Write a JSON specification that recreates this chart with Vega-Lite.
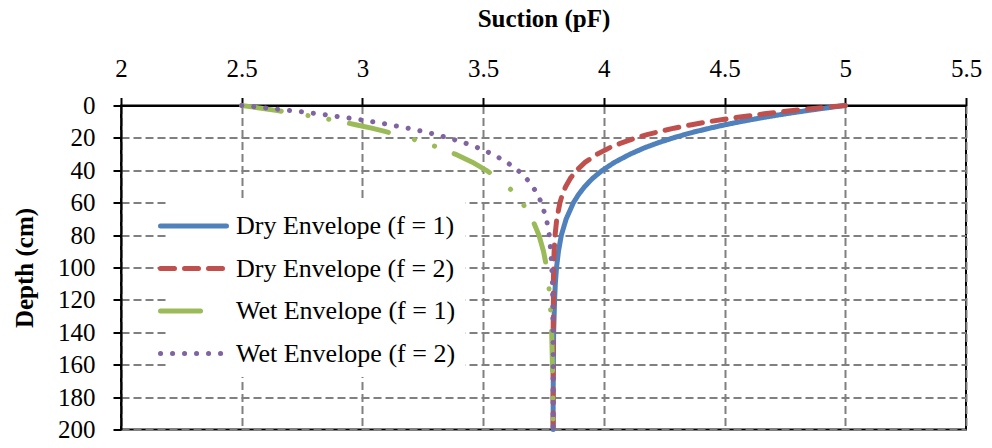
{
  "$schema": "https://vega.github.io/schema/vega-lite/v6.json",
  "autosize": {"type": "none"},
  "width": 845,
  "height": 324,
  "padding": {"left": 121, "top": 105.5, "right": 26, "bottom": 18.5},
  "background": "white",
  "config": {
    "font": "Liberation Serif",
    "view": {"stroke": "black", "strokeWidth": 2},
    "axis": {
      "domainColor": "black", "domainWidth": 2,
      "tickColor": "black", "tickWidth": 2, "tickSize": 8,
      "labelFont": "Liberation Serif", "labelFontSize": 25, "labelColor": "black",
      "titleFont": "Liberation Serif", "titleFontSize": 25, "titleFontWeight": "bold", "titleColor": "black",
      "gridColor": "#808080", "gridDash": [8, 4], "gridWidth": 2
    },
    "legend": {"labelFont": "Liberation Serif"}
  },
  "data": {"values": [
    {"s":"Dry Envelope (f = 1)","d":0,"p":5.000},{"s":"Dry Envelope (f = 1)","d":1,"p":4.947},{"s":"Dry Envelope (f = 1)","d":2,"p":4.897},{"s":"Dry Envelope (f = 1)","d":3,"p":4.849},{"s":"Dry Envelope (f = 1)","d":4,"p":4.803},{"s":"Dry Envelope (f = 1)","d":5,"p":4.759},{"s":"Dry Envelope (f = 1)","d":6,"p":4.717},{"s":"Dry Envelope (f = 1)","d":8,"p":4.638},{"s":"Dry Envelope (f = 1)","d":10,"p":4.565},{"s":"Dry Envelope (f = 1)","d":12,"p":4.499},{"s":"Dry Envelope (f = 1)","d":14,"p":4.439},{"s":"Dry Envelope (f = 1)","d":16,"p":4.384},{"s":"Dry Envelope (f = 1)","d":18,"p":4.333},{"s":"Dry Envelope (f = 1)","d":20,"p":4.287},{"s":"Dry Envelope (f = 1)","d":23,"p":4.225},{"s":"Dry Envelope (f = 1)","d":26,"p":4.170},{"s":"Dry Envelope (f = 1)","d":30,"p":4.109},{"s":"Dry Envelope (f = 1)","d":35,"p":4.045},{"s":"Dry Envelope (f = 1)","d":40,"p":3.994},{"s":"Dry Envelope (f = 1)","d":45,"p":3.953},{"s":"Dry Envelope (f = 1)","d":50,"p":3.921},{"s":"Dry Envelope (f = 1)","d":55,"p":3.895},{"s":"Dry Envelope (f = 1)","d":60,"p":3.874},{"s":"Dry Envelope (f = 1)","d":70,"p":3.844},{"s":"Dry Envelope (f = 1)","d":80,"p":3.824},{"s":"Dry Envelope (f = 1)","d":90,"p":3.812},{"s":"Dry Envelope (f = 1)","d":100,"p":3.804},{"s":"Dry Envelope (f = 1)","d":110,"p":3.799},{"s":"Dry Envelope (f = 1)","d":120,"p":3.796},{"s":"Dry Envelope (f = 1)","d":140,"p":3.792},{"s":"Dry Envelope (f = 1)","d":160,"p":3.791},{"s":"Dry Envelope (f = 1)","d":180,"p":3.790},{"s":"Dry Envelope (f = 1)","d":200,"p":3.790},
    {"s":"Dry Envelope (f = 2)","d":0,"p":5.000},{"s":"Dry Envelope (f = 2)","d":1,"p":4.926},{"s":"Dry Envelope (f = 2)","d":2,"p":4.857},{"s":"Dry Envelope (f = 2)","d":3,"p":4.792},{"s":"Dry Envelope (f = 2)","d":4,"p":4.730},{"s":"Dry Envelope (f = 2)","d":5,"p":4.673},{"s":"Dry Envelope (f = 2)","d":6,"p":4.619},{"s":"Dry Envelope (f = 2)","d":8,"p":4.521},{"s":"Dry Envelope (f = 2)","d":10,"p":4.434},{"s":"Dry Envelope (f = 2)","d":12,"p":4.358},{"s":"Dry Envelope (f = 2)","d":14,"p":4.291},{"s":"Dry Envelope (f = 2)","d":16,"p":4.232},{"s":"Dry Envelope (f = 2)","d":18,"p":4.179},{"s":"Dry Envelope (f = 2)","d":20,"p":4.133},{"s":"Dry Envelope (f = 2)","d":23,"p":4.074},{"s":"Dry Envelope (f = 2)","d":26,"p":4.025},{"s":"Dry Envelope (f = 2)","d":30,"p":3.973},{"s":"Dry Envelope (f = 2)","d":35,"p":3.923},{"s":"Dry Envelope (f = 2)","d":40,"p":3.887},{"s":"Dry Envelope (f = 2)","d":45,"p":3.861},{"s":"Dry Envelope (f = 2)","d":50,"p":3.842},{"s":"Dry Envelope (f = 2)","d":55,"p":3.828},{"s":"Dry Envelope (f = 2)","d":60,"p":3.818},{"s":"Dry Envelope (f = 2)","d":70,"p":3.805},{"s":"Dry Envelope (f = 2)","d":80,"p":3.798},{"s":"Dry Envelope (f = 2)","d":90,"p":3.794},{"s":"Dry Envelope (f = 2)","d":100,"p":3.792},{"s":"Dry Envelope (f = 2)","d":110,"p":3.791},{"s":"Dry Envelope (f = 2)","d":120,"p":3.791},{"s":"Dry Envelope (f = 2)","d":140,"p":3.790},{"s":"Dry Envelope (f = 2)","d":160,"p":3.790},{"s":"Dry Envelope (f = 2)","d":180,"p":3.790},{"s":"Dry Envelope (f = 2)","d":200,"p":3.790},
    {"s":"Wet Envelope (f = 1)","d":0,"p":2.500},{"s":"Wet Envelope (f = 1)","d":1,"p":2.549},{"s":"Wet Envelope (f = 1)","d":2,"p":2.596},{"s":"Wet Envelope (f = 1)","d":3,"p":2.641},{"s":"Wet Envelope (f = 1)","d":4,"p":2.684},{"s":"Wet Envelope (f = 1)","d":5,"p":2.726},{"s":"Wet Envelope (f = 1)","d":6,"p":2.766},{"s":"Wet Envelope (f = 1)","d":8,"p":2.842},{"s":"Wet Envelope (f = 1)","d":10,"p":2.912},{"s":"Wet Envelope (f = 1)","d":12,"p":2.977},{"s":"Wet Envelope (f = 1)","d":14,"p":3.038},{"s":"Wet Envelope (f = 1)","d":16,"p":3.093},{"s":"Wet Envelope (f = 1)","d":18,"p":3.145},{"s":"Wet Envelope (f = 1)","d":20,"p":3.193},{"s":"Wet Envelope (f = 1)","d":23,"p":3.258},{"s":"Wet Envelope (f = 1)","d":26,"p":3.316},{"s":"Wet Envelope (f = 1)","d":30,"p":3.384},{"s":"Wet Envelope (f = 1)","d":35,"p":3.455},{"s":"Wet Envelope (f = 1)","d":40,"p":3.513},{"s":"Wet Envelope (f = 1)","d":45,"p":3.562},{"s":"Wet Envelope (f = 1)","d":50,"p":3.602},{"s":"Wet Envelope (f = 1)","d":55,"p":3.635},{"s":"Wet Envelope (f = 1)","d":60,"p":3.662},{"s":"Wet Envelope (f = 1)","d":70,"p":3.703},{"s":"Wet Envelope (f = 1)","d":80,"p":3.731},{"s":"Wet Envelope (f = 1)","d":90,"p":3.750},{"s":"Wet Envelope (f = 1)","d":100,"p":3.763},{"s":"Wet Envelope (f = 1)","d":110,"p":3.771},{"s":"Wet Envelope (f = 1)","d":120,"p":3.777},{"s":"Wet Envelope (f = 1)","d":140,"p":3.784},{"s":"Wet Envelope (f = 1)","d":160,"p":3.787},{"s":"Wet Envelope (f = 1)","d":180,"p":3.789},{"s":"Wet Envelope (f = 1)","d":200,"p":3.790},
    {"s":"Wet Envelope (f = 2)","d":0,"p":2.500},{"s":"Wet Envelope (f = 2)","d":1,"p":2.568},{"s":"Wet Envelope (f = 2)","d":2,"p":2.633},{"s":"Wet Envelope (f = 2)","d":3,"p":2.695},{"s":"Wet Envelope (f = 2)","d":4,"p":2.753},{"s":"Wet Envelope (f = 2)","d":5,"p":2.808},{"s":"Wet Envelope (f = 2)","d":6,"p":2.860},{"s":"Wet Envelope (f = 2)","d":8,"p":2.956},{"s":"Wet Envelope (f = 2)","d":10,"p":3.042},{"s":"Wet Envelope (f = 2)","d":12,"p":3.119},{"s":"Wet Envelope (f = 2)","d":14,"p":3.189},{"s":"Wet Envelope (f = 2)","d":16,"p":3.251},{"s":"Wet Envelope (f = 2)","d":18,"p":3.306},{"s":"Wet Envelope (f = 2)","d":20,"p":3.356},{"s":"Wet Envelope (f = 2)","d":23,"p":3.422},{"s":"Wet Envelope (f = 2)","d":26,"p":3.477},{"s":"Wet Envelope (f = 2)","d":30,"p":3.539},{"s":"Wet Envelope (f = 2)","d":35,"p":3.598},{"s":"Wet Envelope (f = 2)","d":40,"p":3.644},{"s":"Wet Envelope (f = 2)","d":45,"p":3.679},{"s":"Wet Envelope (f = 2)","d":50,"p":3.705},{"s":"Wet Envelope (f = 2)","d":55,"p":3.726},{"s":"Wet Envelope (f = 2)","d":60,"p":3.741},{"s":"Wet Envelope (f = 2)","d":70,"p":3.762},{"s":"Wet Envelope (f = 2)","d":80,"p":3.774},{"s":"Wet Envelope (f = 2)","d":90,"p":3.780},{"s":"Wet Envelope (f = 2)","d":100,"p":3.784},{"s":"Wet Envelope (f = 2)","d":110,"p":3.787},{"s":"Wet Envelope (f = 2)","d":120,"p":3.788},{"s":"Wet Envelope (f = 2)","d":140,"p":3.789},{"s":"Wet Envelope (f = 2)","d":160,"p":3.790},{"s":"Wet Envelope (f = 2)","d":180,"p":3.790},{"s":"Wet Envelope (f = 2)","d":200,"p":3.790}
  ]},
  "mark": {"type": "line", "strokeWidth": 5, "strokeCap": "round", "strokeJoin": "round"},
  "encoding": {
    "x": {
      "field": "p", "type": "quantitative",
      "scale": {"domain": [2, 5.5], "nice": false, "zero": false},
      "axis": {"orient": "top", "title": "Suction (pF)", "values": [2, 2.5, 3, 3.5, 4, 4.5, 5, 5.5], "format": "~g", "labelPadding": 16, "titlePadding": 25, "labelFlush": false}
    },
    "y": {
      "field": "d", "type": "quantitative",
      "scale": {"domain": [0, 200], "reverse": true, "nice": false},
      "axis": {"title": "Depth (cm)", "values": [0, 20, 40, 60, 80, 100, 120, 140, 160, 180, 200], "labelPadding": 18, "titlePadding": 20, "labelFlush": false}
    },
    "color": {
      "field": "s", "type": "nominal",
      "scale": {"domain": ["Dry Envelope (f = 1)", "Dry Envelope (f = 2)", "Wet Envelope (f = 1)", "Wet Envelope (f = 2)"], "range": ["#4F81BD", "#C0504D", "#9BBB59", "#8064A2"]},
      "legend": {"title": null, "orient": "none", "legendX": 47.5, "legendY": 95.5, "symbolType": "M-2.64,0H2.64", "symbolSize": 625, "symbolStrokeWidth": 5, "labelFontSize": 26, "labelColor": "black", "labelLimit": 400, "labelOffset": 27.5, "rowPadding": 14.5, "padding": 10, "fillColor": "white", "encode": {"symbols": {"update": {"strokeCap": {"value": "round"}}}}}
    },
    "strokeDash": {
      "field": "s", "type": "nominal",
      "scale": {"domain": ["Dry Envelope (f = 1)", "Dry Envelope (f = 2)", "Wet Envelope (f = 1)", "Wet Envelope (f = 2)"], "range": [[1, 0], [14, 10], [40, 27, 0.1, 21, 0.1, 21], [0.1, 11.9]]},
      "legend": {"title": null, "orient": "none", "legendX": 47.5, "legendY": 95.5, "symbolType": "M-2.64,0H2.64", "symbolSize": 625, "symbolStrokeWidth": 5, "labelFontSize": 26, "labelColor": "black", "labelLimit": 400, "labelOffset": 27.5, "rowPadding": 14.5, "padding": 10, "fillColor": "white", "encode": {"symbols": {"update": {"strokeCap": {"value": "round"}}}}}
    },
    "order": {"field": "d", "type": "quantitative"}
  }
}
